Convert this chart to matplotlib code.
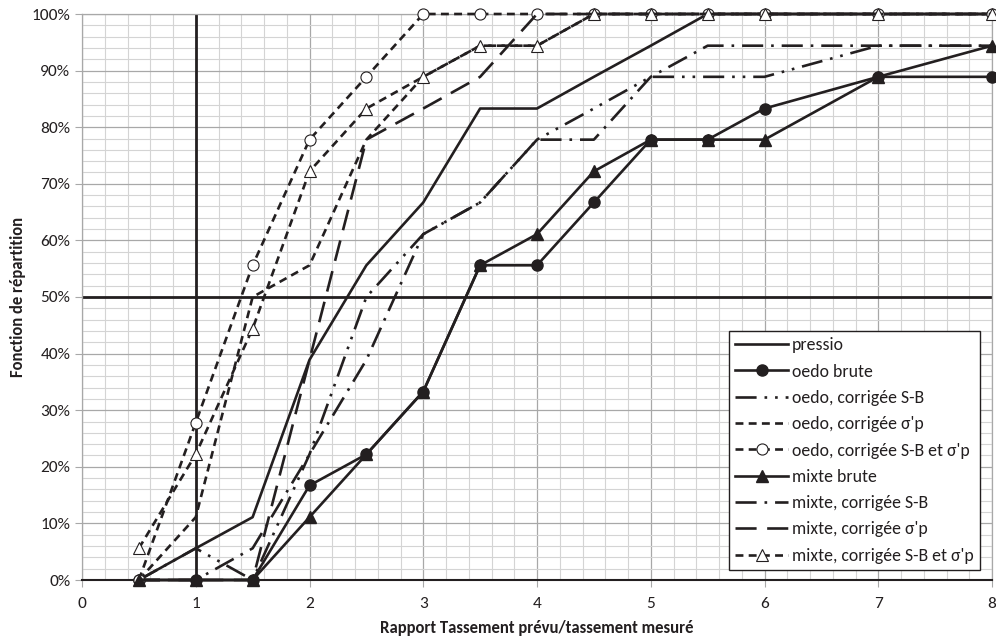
import numpy as np
import matplotlib
matplotlib.use('Agg')
import matplotlib.pyplot as plt
import matplotlib.ticker as ticker
from matplotlib import font_manager

#--------- font ---------
available = {f.name for f in font_manager.fontManager.ttflist}
family = [f for f in ['Carlito', 'Liberation Sans Narrow', 'Liberation Sans'] if f in available] + ['DejaVu Sans']
plt.rcParams['font.family'] = family

#--------- data (fractions of 18 sites, in %) ---------
x_ratio = [0.5, 1, 1.5, 2, 2.5, 3, 3.5, 4, 4.5, 5, 5.5, 6, 7, 8]

pressio      = [0, 5.6, 11.1, 38.9, 55.6, 66.7, 83.3, 83.3, 88.9, 94.4, 100, 100, 100, 100]
oedo_brute   = [0, 0, 0, 16.7, 22.2, 33.3, 55.6, 55.6, 66.7, 77.8, 77.8, 83.3, 88.9, 88.9]
oedo_sb      = [0, 5.6, 0, 22.2, 50.0, 61.1, 66.7, 77.8, 83.3, 88.9, 88.9, 88.9, 94.4, 94.4]
oedo_sp      = [0, 11.1, 50.0, 55.6, 77.8, 88.9, 94.4, 94.4, 100, 100, 100, 100, 100, 100]
oedo_sb_sp   = [0, 27.8, 55.6, 77.8, 88.9, 100, 100, 100, 100, 100, 100, 100, 100, 100]
mixte_brute  = [0, 0, 0, 11.1, 22.2, 33.3, 55.6, 61.1, 72.2, 77.8, 77.8, 77.8, 88.9, 94.4]
mixte_sb     = [0, 0, 5.6, 22.2, 38.9, 61.1, 66.7, 77.8, 77.8, 88.9, 94.4, 94.4, 94.4, 94.4]
mixte_sp     = [0, 0, 0, 38.9, 77.8, 83.3, 88.9, 100, 100, 100, 100, 100, 100, 100]
mixte_sb_sp  = [5.6, 22.2, 44.4, 72.2, 83.3, 88.9, 94.4, 94.4, 100, 100, 100, 100, 100, 100]

labels = ['pressio', 'oedo brute', 'oedo, corrigée S-B', "oedo, corrigée σ'p",
          "oedo, corrigée S-B et σ'p", 'mixte brute', 'mixte, corrigée S-B',
          "mixte, corrigée σ'p", "mixte, corrigée S-B et σ'p"]

#--------- styles ---------
C = '#231f20'
LW = 1.9
styles = [
    dict(ls='-'),
    dict(ls='-', marker='o', ms=8, mfc=C, mec=C),
    dict(ls=(0, (8, 3, 1, 3, 1, 3))),
    dict(ls=(0, (3, 2))),
    dict(ls=(0, (3, 2)), marker='o', ms=8, mfc='white', mec=C, mew=0.8),
    dict(ls='-', marker='^', ms=8, mfc=C, mec=C),
    dict(ls=(0, (8, 3, 1, 3))),
    dict(ls=(0, (8, 4))),
    dict(ls=(0, (3, 2)), marker='^', ms=8, mfc='white', mec=C, mew=0.8),
]
series = [pressio, oedo_brute, oedo_sb, oedo_sp, oedo_sb_sp,
          mixte_brute, mixte_sb, mixte_sp, mixte_sb_sp]

#--------- plotting ---------
fig = plt.figure(figsize=(9.96, 6.38), dpi=100)
ax = fig.add_axes([82/996, 1-580/638, 910/996, 566/638])

ax.set_xlim(0, 8)
ax.set_ylim(0, 100)
ax.xaxis.set_major_locator(ticker.MultipleLocator(1))
ax.xaxis.set_minor_locator(ticker.MultipleLocator(0.2))
ax.yaxis.set_major_locator(ticker.MultipleLocator(10))
ax.yaxis.set_minor_locator(ticker.MultipleLocator(2))
ax.yaxis.set_major_formatter(ticker.FuncFormatter(lambda v, p: '%d%%' % v))
ax.grid(which='minor', color='#d4d4d4', lw=0.8)
ax.grid(which='major', color='#a8a8a8', lw=0.9)
ax.set_axisbelow(True)
for s in ['left', 'right', 'top']:
    ax.spines[s].set_color('#a8a8a8')
    ax.spines[s].set_linewidth(0.9)
ax.spines['bottom'].set_color(C)
ax.spines['bottom'].set_linewidth(1.5)
ax.tick_params(which='major', length=5, color='#a8a8a8', labelsize=12.5, labelcolor=C)
ax.tick_params(which='minor', length=0)
ax.tick_params(axis='x', pad=7)

ax.axvline(1, color=C, lw=2.0, zorder=2)
ax.axhline(50, color=C, lw=2.0, zorder=2)

for y, lab, st in zip(series, labels, styles):
    ax.plot(x_ratio, y, color=C, lw=LW, label=lab, clip_on=False, zorder=3, **st)

ax.set_xlabel('Rapport Tassement prévu/tassement mesuré', fontsize=12, fontweight='bold', color=C, labelpad=7)
ax.set_ylabel('Fonction de répartition', fontsize=12, fontweight='bold', color=C, labelpad=4)

leg = ax.legend(loc='lower right', bbox_to_anchor=(980/996, 1-570/638), bbox_transform=fig.transFigure,
                fontsize=12.8, frameon=True, fancybox=False, framealpha=1, edgecolor=C,
                borderaxespad=0, handlelength=3.0, handletextpad=0.2, labelspacing=0.58, borderpad=0.35)
leg.get_frame().set_linewidth(1.0)
for t in leg.get_texts():
    t.set_color(C)

fig.savefig('out.png', dpi=100)
